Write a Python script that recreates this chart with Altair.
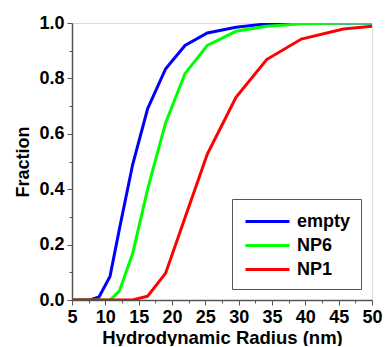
import altair as alt
import pandas as pd

radius = [5, 7.7, 9.05, 10.7, 12.1, 14.1, 16.35, 19.05, 21.95, 25.3, 29.6, 34.2, 39.4, 45.7, 50]
frac_empty = [0, 0, 0.011, 0.085, 0.255, 0.489, 0.691, 0.835, 0.919, 0.964, 0.985, 0.997, 1.0, 1.0, 1.0]
frac_np6 = [0, 0, 0, 0, 0.032, 0.168, 0.40, 0.64, 0.817, 0.919, 0.970, 0.988, 0.997, 1.0, 1.0]
frac_np1 = [0, 0, 0, 0, 0, 0, 0.014, 0.097, 0.297, 0.527, 0.732, 0.868, 0.942, 0.978, 0.988]
series = ["empty", "NP6", "NP1"]
colors = ["#0000FF", "#00FF00", "#FF0000"]
x_major = [5, 10, 15, 20, 25, 30, 35, 40, 45, 50]
x_minor = [7.5, 12.5, 17.5, 22.5, 27.5, 32.5, 37.5, 42.5, 47.5]
y_major = [0.0, 0.2, 0.4, 0.6, 0.8, 1.0]
y_minor = [0.1, 0.3, 0.5, 0.7, 0.9]

rows = []
for name, vals in zip(series, [frac_empty, frac_np6, frac_np1]):
    for r, v in zip(radius, vals):
        rows.append({"radius": r, "fraction": v, "series": name})
df = pd.DataFrame(rows)

FONT = "Liberation Sans"
AX = "#555555"

xscale = alt.Scale(domain=[5, 50], nice=False, zero=False)
yscale = alt.Scale(domain=[0, 1], nice=False)

lines = alt.Chart(df).mark_line(strokeWidth=3, clip=True).encode(
    x=alt.X("radius:Q", scale=xscale,
            axis=alt.Axis(values=x_major, title="Hydrodynamic Radius (nm)", grid=False,
                          tickSize=5, tickWidth=1, tickColor=AX, domainColor=AX, domainWidth=1.5,
                          labelFont=FONT, labelFontSize=18, labelFontWeight="bold", labelColor="black",
                          labelPadding=3, labelFlush=False,
                          titleFont=FONT, titleFontSize=18.5, titleFontWeight="bold", titleColor="black",
                          titlePadding=2)),
    y=alt.Y("fraction:Q", scale=yscale,
            axis=alt.Axis(values=y_major, format=".1f", title="Fraction", grid=False,
                          tickSize=5, tickWidth=1, tickColor=AX, domainColor=AX, domainWidth=1.5,
                          labelFont=FONT, labelFontSize=18, labelFontWeight="bold", labelColor="black",
                          labelPadding=3, labelFlush=False,
                          titleFont=FONT, titleFontSize=18, titleFontWeight="bold", titleColor="black",
                          titlePadding=6)),
    color=alt.Color("series:N", scale=alt.Scale(domain=series, range=colors),
                    legend=alt.Legend(title=None, orient="none", legendX=160, legendY=176,
                                      symbolType="M-2,0H2", symbolSize=484, symbolStrokeWidth=3,
                                      labelFont=FONT, labelFontSize=18, labelFontWeight="bold",
                                      labelColor="black", labelOffset=17, rowPadding=2,
                                      padding=10, strokeColor=AX, fillColor="white",
                                      symbolOffset=13)),
    detail="series:N",
)

minor = alt.Chart(df).mark_point(opacity=0).encode(
    x=alt.X("radius:Q", scale=xscale,
            axis=alt.Axis(values=x_minor, labels=False, title=None, grid=False, orient="bottom",
                          tickSize=3, tickColor=AX, domain=False)),
    y=alt.Y("fraction:Q", scale=yscale,
            axis=alt.Axis(values=y_minor, labels=False, title=None, grid=False, orient="left",
                          tickSize=3, tickColor=AX, domain=False)),
)

chart = alt.layer(lines, minor).resolve_axis(x="independent", y="independent").properties(
    width=300, height=277,
    autosize=alt.AutoSizeParams(type="none"),
    padding={"left": 72, "top": 23, "right": 13, "bottom": 46},
).configure_view(stroke=AX, strokeWidth=1.5).configure(background="white")

chart.save("out.html", embed_options={"renderer": "svg", "actions": False})
